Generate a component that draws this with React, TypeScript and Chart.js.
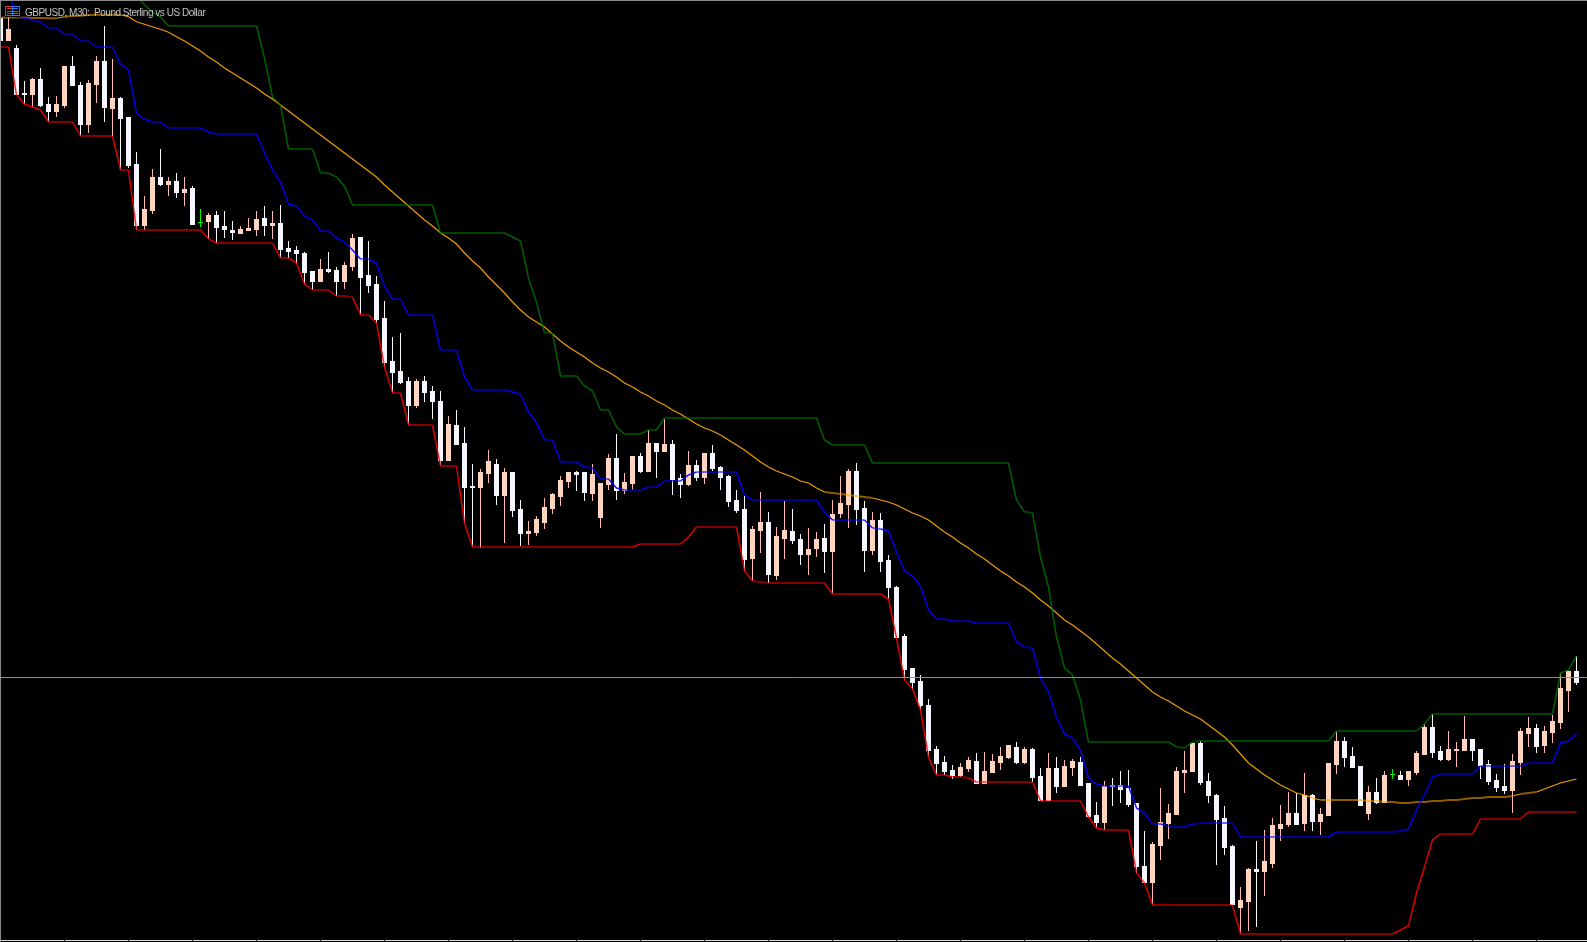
import React, { useEffect, useRef } from "react";
import { Chart, registerables } from "chart.js";

Chart.register(...registerables);

// All prices are expressed as pips below the top of the visible price range.
const title = "GBPUSD, M30:  Pound Sterling vs US Dollar";
const lastPrice = [677.5];

const opens = [
  18,41,48,93,95,79,104,112,106,66,85,125,85,61,109,98,117,164,226,211,
  177,185,181,193,188,222,222,215,226,230,234,231,230,218,226,223,248,250,253,271,
  282,269,270,282,267,237,275,284,318,361,371,381,406,381,391,401,461,425,443,486,
  488,474,464,496,472,509,534,533,523,509,497,482,472,472,494,518,485,458,491,484,
  456,472,443,452,444,478,485,465,478,453,467,476,500,509,559,531,522,576,539,531,
  539,555,549,538,552,514,505,471,508,551,520,560,587,636,668,681,705,749,762,770,
  776,769,761,784,773,763,758,747,763,749,776,801,768,787,768,762,783,815,823,785,
  785,788,803,866,883,846,824,815,773,772,743,781,795,818,846,908,902,869,872,864,
  829,825,813,824,795,822,816,765,741,756,766,814,792,803,774,775,780,773,755,727,
  751,760,751,751,739,749,764,780,786,791,763,734,728,746,733,723,691,671,
];
const closes = [
  41,29,95,95,79,106,112,104,66,86,125,83,61,108,98,119,166,226,209,177,
  185,181,193,189,225,222,215,228,230,233,229,228,219,226,223,250,252,254,273,282,
  269,272,282,265,238,278,286,320,363,373,383,406,381,393,402,461,424,445,488,488,
  472,461,496,472,511,534,531,519,507,494,480,472,475,493,474,483,458,491,482,456,
  472,443,452,444,480,485,465,478,453,469,478,502,511,560,529,522,575,536,530,541,
  555,549,539,552,514,503,471,510,551,520,562,588,638,670,683,706,751,764,772,776,
  767,760,784,771,761,756,745,763,749,778,801,768,787,766,761,786,817,823,786,787,
  790,805,867,883,844,822,813,771,770,743,783,796,820,848,905,900,869,872,861,825,
  824,813,825,795,822,814,763,741,758,768,806,792,803,775,774,780,771,753,727,753,
  760,749,749,739,751,766,782,788,791,761,731,728,747,731,721,688,671,683,
];
const highs = [
  10,15,45,81,78,68,97,96,66,56,82,80,56,26,59,97,117,152,196,169,
  149,177,173,177,186,209,213,211,211,221,226,218,211,206,211,205,241,246,252,271,
  259,252,267,262,234,237,241,276,301,337,333,377,379,376,386,391,416,410,427,464,
  469,450,459,468,472,500,521,516,498,493,476,472,471,472,464,483,454,434,473,456,
  453,430,443,419,440,474,451,460,453,445,466,475,490,496,526,492,512,527,501,509,
  534,528,532,524,500,476,469,463,501,512,513,555,586,634,668,675,699,746,756,765,
  763,757,753,752,754,747,745,742,747,748,768,753,757,760,759,757,783,802,781,778,
  771,770,803,831,842,788,804,767,751,743,741,773,794,806,845,887,868,841,830,818,
  805,792,793,773,794,808,763,732,737,747,766,786,778,771,769,771,771,751,724,714,
  746,731,742,716,739,749,760,774,764,754,728,717,724,726,715,673,671,656,
];
const lows = [
  41,41,95,104,107,107,122,117,108,86,136,133,103,122,136,170,168,230,230,214,
  186,196,198,206,225,227,239,243,238,240,234,231,236,236,239,258,258,264,284,290,
  282,273,296,289,271,315,293,323,367,393,384,425,408,402,419,466,461,445,523,547,
  548,483,505,543,517,546,545,536,529,514,506,488,491,501,501,528,490,500,494,490,
  473,472,478,452,495,498,486,481,484,471,490,507,513,571,581,553,583,580,559,544,
  565,575,557,573,594,518,528,525,572,555,572,599,638,680,690,710,757,775,775,779,
  777,772,784,784,773,770,759,764,764,782,801,801,793,787,776,786,818,828,830,806,
  803,807,873,883,905,860,839,815,793,772,785,803,865,855,905,934,931,927,896,868,
  841,827,825,831,831,835,816,774,767,768,806,820,804,803,779,780,786,775,755,758,
  761,761,767,751,761,779,785,792,794,813,775,747,753,753,743,729,712,685,
];
const lowerBand = [
  47,47,95,104,107,110,122,122,122,122,136,136,136,136,136,170,170,230,230,230,
  230,230,230,230,230,230,239,243,243,243,243,243,243,243,243,258,258,263,284,290,
  290,290,296,296,297,315,315,323,367,393,393,425,425,425,425,466,466,466,523,547,
  547,547,547,547,547,547,547,547,547,547,547,547,547,547,547,547,547,547,547,547,
  544,544,544,544,544,544,537,527,527,527,527,527,527,571,581,582,583,583,583,583,
  583,583,583,583,594,594,594,594,594,594,594,599,638,680,689,710,757,775,775,777,
  777,778,782,782,782,782,782,782,782,782,801,801,801,801,801,801,817,828,830,830,
  830,830,873,883,905,905,905,905,905,905,905,905,905,905,905,934,934,934,934,934,
  934,934,934,934,934,934,934,934,934,934,934,934,934,934,934,930,926,893,867,840,
  834,834,834,834,834,819,819,819,819,819,819,812,812,812,812,812,812,812,
];
const middleBand = [
  -25,-9,17,18,20,22,28,28,34,34,41,41,47,47,47,64,70,113,119,122,
  122,128,128,128,128,128,132,134,134,134,134,134,134,153,170,182,204,206,216,220,
  231,231,238,242,250,259,259,263,286,299,299,315,315,315,315,350,350,350,377,390,
  390,390,390,390,392,394,412,423,440,440,462,462,462,467,468,479,479,488,490,490,
  490,487,487,481,481,481,475,472,472,472,472,472,472,495,500,500,500,500,500,500,
  500,500,500,512,520,520,520,520,520,528,529,531,552,571,576,586,610,619,619,621,
  621,621,623,623,623,623,623,642,647,648,678,692,717,734,738,750,778,784,786,786,
  786,786,808,813,824,824,826,827,827,824,823,823,823,823,823,837,837,837,837,837,
  837,837,837,837,837,837,837,832,832,832,832,832,832,832,832,831,829,810,795,777,
  774,774,774,774,774,766,766,766,766,766,766,763,763,763,763,743,741,734,
];
const upperBand = [
  null,null,null,null,null,null,null,null,null,null,null,null,null,null,null,null,null,-4,5,12,
  17,26,26,26,26,26,26,26,26,26,26,26,26,58,97,105,149,149,149,149,
  173,173,177,186,205,205,205,205,205,205,205,205,205,205,205,233,233,233,233,233,
  233,233,233,233,237,241,278,302,333,333,376,376,376,386,391,410,410,427,434,434,
  434,430,430,418,418,418,418,418,418,418,418,418,418,418,418,418,418,418,418,418,
  418,418,418,440,445,445,445,445,445,463,463,463,463,463,463,463,463,463,463,463,
  463,463,463,463,463,463,463,500,512,513,557,587,637,668,675,700,742,742,742,742,
  742,742,742,742,742,742,742,747,748,742,741,741,741,741,741,741,741,741,741,741,
  741,741,741,741,741,741,741,731,731,731,731,731,731,731,731,731,731,731,724,714,
  714,714,714,714,714,714,714,714,714,714,714,714,714,714,714,673,670,656,
];
const movingAverage = [
  17.5,17.5,17.5,17.5,18,18,18.3,18.3,16.7,16,15.7,15,14.7,14.7,14.7,14.7,16.7,21.7,24.3,26.7,
  29.3,32.3,36.7,41,46,51,57,62,68,73,78,83,88,94,99,105,111,117,123,129,
  135,141,147,153,159,165,171,177,185,192,199,206,213,220,226,233,238,244,253,261,
  268,277,285,293,302,310,317,322,327,334,341,347,352,357,363,368,372,377,383,387,
  392,396,401,405,410,414,419,424,428,431,435,440,445,450,456,462,467,471,474,477,
  481,483,488,492,493,494,495,496,497,498,500,502,505,509,513,516,520,526,532,537,
  543,548,554,559,565,571,576,582,587,593,600,606,613,620,625,631,637,644,651,658,
  664,671,678,685,692,697,701,706,711,715,719,725,731,737,745,754,763,769,775,780,
  785,789,793,795,798,800,800,800,800,800,800,801,801,802,802,803,803,802,802,801,
  801,800,800,799,798,798,797,797,797,796,794,793,792,789,786,783,781,779,
];

const X_MIN = -0.0625;
const X_MAX = 198.3125;

const framePlugin = {
  id: "frame",
  afterDraw(chart: any) {
    const c = chart.ctx;
    c.save();
    // frame and time axis
    c.fillStyle = "#8a8a8a";
    c.fillRect(0, 0, 1587, 1);
    c.fillRect(0, 0, 1, 942);
    c.fillStyle = "#dcdcdc";
    c.fillRect(1, 940, 1586, 1);
    c.fillStyle = "#000000";
    for (let x = 64; x < 1587; x += 64) c.fillRect(x, 940, 1, 1);
    // chart window icon
    c.fillStyle = "#000000";
    c.fillRect(5, 6, 15, 11);
    c.strokeStyle = "#d8392f";
    c.lineWidth = 1;
    c.strokeRect(5.5, 6.5, 7, 9);
    c.strokeStyle = "#2f7fe8";
    c.strokeRect(12.5, 6.5, 7, 9);
    c.strokeStyle = "#d8392f";
    [8.5, 11.5, 13.5].forEach((y) => {
      c.beginPath();
      c.moveTo(7, y);
      c.lineTo(12, y);
      c.stroke();
    });
    c.strokeStyle = "#2f7fe8";
    [8.5, 11.5, 13.5].forEach((y) => {
      c.beginPath();
      c.moveTo(13, y);
      c.lineTo(18, y);
      c.stroke();
    });
    // symbol caption
    c.fillStyle = "#c4c4c4";
    c.font = "10px 'Liberation Sans'";
    c.letterSpacing = "-0.47px";
    c.textBaseline = "alphabetic";
    c.fillText(title, 25, 16);
    c.restore();
  },
};

const isUp = (i: number) => closes[i] < opens[i];
const isDoji = (i: number) => closes[i] === opens[i];
const wickColor = (i: number) => (isDoji(i) ? "#00f000" : isUp(i) ? "#ffb9b9" : "#f8f8ff");
const bodyColor = (i: number) => (isDoji(i) ? "#00f000" : isUp(i) ? "#ffd5c0" : "#f6f6ff");

const bandDataset = (label: string, data: (number | null)[], rgb: string, flatWidth: number, slopeWidth: number, flatA: number, slopeA: number) => ({
  type: "line" as const,
  label,
  data: data.map((y, x) => ({ x, y })),
  order: 1,
  tension: 0,
  pointRadius: 0,
  borderWidth: flatWidth,
  borderColor: `rgba(${rgb},${flatA})`,
  segment: {
    borderColor: (ctx: any) =>
      Math.abs(ctx.p0.parsed.y - ctx.p1.parsed.y) < 1.5 ? `rgba(${rgb},${flatA})` : `rgba(${rgb},${slopeA})`,
    borderWidth: (ctx: any) => (Math.abs(ctx.p0.parsed.y - ctx.p1.parsed.y) < 1.5 ? flatWidth : slopeWidth),
  },
});

export default function App() {
  const ref = useRef<HTMLCanvasElement | null>(null);
  useEffect(() => {
    document.body.style.margin = "0";
    document.body.style.background = "#000";
    const chart = new Chart(ref.current!, {
      type: "bar",
      data: {
        datasets: [
          {
            type: "line" as const,
            label: "Last price",
            data: [
              { x: X_MIN, y: lastPrice[0] },
              { x: X_MAX, y: lastPrice[0] },
            ],
            order: 0,
            borderColor: "#8f8f8f",
            borderWidth: 1,
            pointRadius: 0,
          },
          bandDataset("Upper", upperBand, "0,120,0", 2, 1.5, 0.55, 0.8),
          bandDataset("Middle", middleBand, "0,0,255", 2, 1.5, 0.55, 0.9),
          bandDataset("Lower", lowerBand, "255,0,0", 2, 1.5, 0.52, 0.85),
          bandDataset("MA", movingAverage, "255,165,0", 2, 1.15, 0.55, 0.95),
          {
            type: "bar" as const,
            label: "Body",
            data: opens.map((o, x) => ({
              x,
              y: o === closes[x] ? [o, o + 1] : [Math.min(o, closes[x]), Math.max(o, closes[x])],
            })),
            backgroundColor: opens.map((_, i) => bodyColor(i)),
            barThickness: 5,
            grouped: false,
            order: 2,
            borderWidth: 0,
            inflateAmount: 0,
          },
          {
            type: "bar" as const,
            label: "Wick",
            data: highs.map((h, x) => ({ x, y: [h, lows[x]] })),
            backgroundColor: highs.map((_, i) => wickColor(i)),
            barThickness: 1,
            grouped: false,
            order: 3,
            borderWidth: 0,
            inflateAmount: 0,
          },
        ] as any,
      },
      options: {
        animation: false,
        responsive: false,
        maintainAspectRatio: false,
        layout: { padding: 0 },
        plugins: { legend: { display: false }, title: { display: false }, tooltip: { enabled: false } },
        scales: {
          x: { type: "linear", min: X_MIN, max: X_MAX, display: false, offset: false, grid: { offset: false } },
          y: { type: "linear", min: 0, max: 942, reverse: true, display: false },
        },
      } as any,
      plugins: [framePlugin],
    });
    return () => chart.destroy();
  }, []);
  return (
    <div style={{ position: "fixed", left: 0, top: 0, width: 1587, height: 942, background: "#000" }}>
      <canvas ref={ref} width={1587} height={942} style={{ display: "block" }} />
    </div>
  );
}
